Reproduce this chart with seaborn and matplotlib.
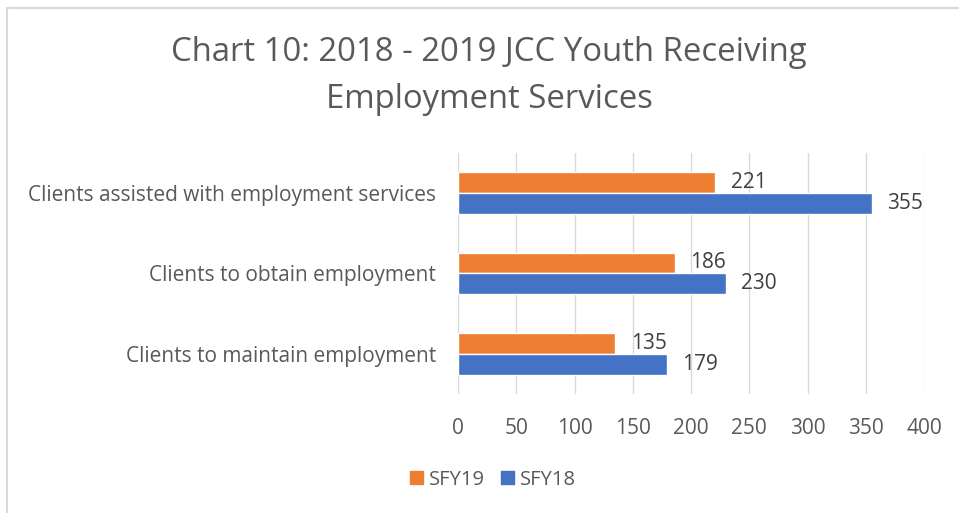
import pandas as pd
import matplotlib.pyplot as plt
import seaborn as sns
from matplotlib.lines import Line2D

categories = ["Clients assisted with employment services",
              "Clients to obtain employment",
              "Clients to maintain employment"]
sfy19 = [221, 186, 135]
sfy18 = [355, 230, 179]
series = ["SFY19", "SFY18"]
colors = ["#ED7D31", "#4472C4"]

df = pd.DataFrame({
    "category": categories * 2,
    "value": sfy19 + sfy18,
    "series": ["SFY19"] * 3 + ["SFY18"] * 3,
})

sns.set_style("white")
plt.rcParams["font.family"] = ["Open Sans", "DejaVu Sans"]
txt = "#595959"

fig = plt.figure(figsize=(9.59, 5.13), dpi=100)
ax = fig.add_axes([0.4776, 0.232, 0.4859, 0.470])

sns.barplot(data=df, y="category", x="value", hue="series", hue_order=series,
            order=categories, palette=colors, orient="h", width=0.52,
            saturation=1, ax=ax, legend=False)

for c in ax.containers:
    ax.bar_label(c, padding=11, fontsize=15, color="#404040")

ax.set_xlim(0, 400)
ax.set_ylim(2.5, -0.5)
ax.set_xticks(range(0, 401, 50))
ax.set_xlabel(""); ax.set_ylabel("")
ax.grid(axis="x", color="#D9D9D9", linewidth=1)
ax.set_axisbelow(True)
for s in ax.spines.values():
    s.set_visible(False)
ax.tick_params(axis="x", length=0, labelsize=15, labelcolor=txt, pad=17)
ax.tick_params(axis="y", length=0, labelsize=15, labelcolor=txt, pad=16)

fig.text(0.51, 0.852, "Chart 10: 2018 - 2019 JCC Youth Receiving\nEmployment Services",
         ha="center", va="center", fontsize=23.7, color=txt, linespacing=1.55)

handles = [plt.Rectangle((0, 0), 1, 1, color=c) for c in colors]
fig.legend(handles, series, loc="center", bbox_to_anchor=(0.514, 0.065), ncol=2,
           frameon=False, fontsize=14.5, labelcolor=txt, handlelength=0.65,
           handleheight=0.65, columnspacing=0.8, handletextpad=0.3)

# chart border
fig.add_artist(Line2D([0.0068, 0.0068], [0, 0.984], color="#D9D9D9", lw=1.5))
fig.add_artist(Line2D([0.0068, 1], [0.984, 0.984], color="#D9D9D9", lw=1.5))

fig.savefig("out.png", dpi=100)
